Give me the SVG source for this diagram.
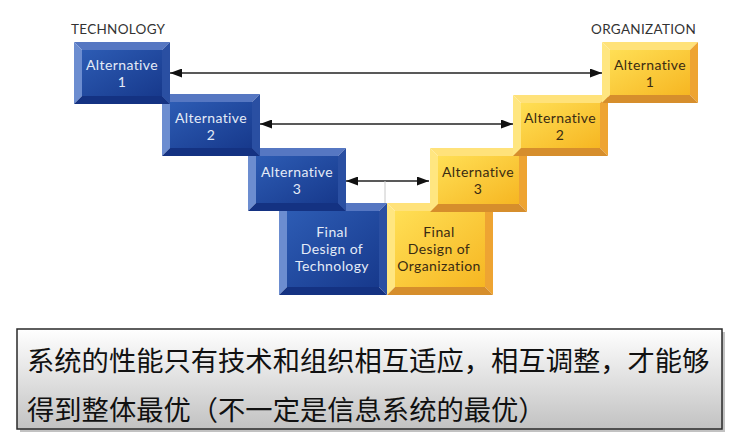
<svg xmlns="http://www.w3.org/2000/svg" width="740" height="444" viewBox="0 0 740 444">
<defs>
  <linearGradient id="gBlue" x1="0" y1="0" x2="1" y2="1">
    <stop offset="0" stop-color="#2d5cb4"/>
    <stop offset="1" stop-color="#17398c"/>
  </linearGradient>
  <linearGradient id="gYel" x1="0" y1="0" x2="1" y2="1">
    <stop offset="0" stop-color="#ffdf55"/>
    <stop offset="1" stop-color="#f6b622"/>
  </linearGradient>
  <linearGradient id="gBox" x1="0" y1="0" x2="0" y2="1">
    <stop offset="0" stop-color="#ffffff"/>
    <stop offset="1" stop-color="#c2c2c2"/>
  </linearGradient>
  <marker id="ah" viewBox="0 0 12 9" refX="12" refY="4.5" markerWidth="12" markerHeight="9" markerUnits="userSpaceOnUse" orient="auto-start-reverse">
    <path d="M0,0 L12,4.5 L0,9 z" fill="#111"/>
  </marker>
  <style>
    .bf{fill:url(#gBlue)} .bt{fill:#5677c2} .bl{fill:#6c8dd0} .br{fill:#2a4fa2} .bb{fill:#143282}
    .yf{fill:url(#gYel)} .yt{fill:#ffe27a} .yl{fill:#ffe680} .yr{fill:#eea432} .yb{fill:#d68e2c}
    .tb{font-family:Lato,"Open Sans",sans-serif;font-size:14px;letter-spacing:0.4px;fill:#e4ebf7;text-anchor:middle}
    .ty{font-family:Lato,"Open Sans",sans-serif;font-size:14px;letter-spacing:0.4px;fill:#3a2b12;text-anchor:middle}
    .hd{font-family:Lato,"Open Sans",sans-serif;font-size:13.5px;letter-spacing:0.3px;fill:#333}
    .cn{font-family:"Noto Sans CJK SC","Noto Sans",sans-serif;font-size:27.3px;fill:#111}
    .ar{stroke:#222;stroke-width:1.4;fill:none}
  </style>
</defs>
<rect width="740" height="444" fill="#ffffff"/>

<text class="hd" x="71" y="34">TECHNOLOGY</text>
<text class="hd" x="696" y="34" text-anchor="end">ORGANIZATION</text>

<g id="final-tech">
  <rect class="bf" x="287" y="211" width="92" height="76"/>
  <polygon class="bt" points="279,203 387,203 379,211 287,211"/>
  <polygon class="bl" points="279,203 287,211 287,287 279,295"/>
  <polygon class="br" points="387,203 379,211 379,287 387,295"/>
  <polygon class="bb" points="279,295 387,295 379,287 287,287"/>
  <text class="tb" x="332" y="237">Final</text>
  <text class="tb" x="332" y="254">Design of</text>
  <text class="tb" x="332" y="271">Technology</text>
</g>
<g id="final-org">
  <rect class="yf" x="395" y="211" width="90" height="76"/>
  <polygon class="yt" points="387,203 493,203 485,211 395,211"/>
  <polygon class="yl" points="387,203 395,211 395,287 387,295"/>
  <polygon class="yr" points="493,203 485,211 485,287 493,295"/>
  <polygon class="yb" points="387,295 493,295 485,287 395,287"/>
  <text class="ty" x="439" y="237">Final</text>
  <text class="ty" x="439" y="254">Design of</text>
  <text class="ty" x="439" y="271">Organization</text>
</g>

<g id="tech-alt3">
  <rect class="bf" x="256" y="156" width="82" height="47"/>
  <polygon class="bt" points="248,148 346,148 338,156 256,156"/>
  <polygon class="bl" points="248,148 256,156 256,203 248,211"/>
  <polygon class="br" points="346,148 338,156 338,203 346,211"/>
  <polygon class="bb" points="248,211 346,211 338,203 256,203"/>
  <text class="tb" x="297" y="177">Alternative</text>
  <text class="tb" x="297" y="194">3</text>
</g>
<g id="org-alt3">
  <rect class="yf" x="438" y="156" width="81" height="48"/>
  <polygon class="yt" points="430,148 527,148 519,156 438,156"/>
  <polygon class="yl" points="430,148 438,156 438,204 430,212"/>
  <polygon class="yr" points="527,148 519,156 519,204 527,212"/>
  <polygon class="yb" points="430,212 527,212 519,204 438,204"/>
  <text class="ty" x="478" y="177">Alternative</text>
  <text class="ty" x="478" y="194">3</text>
</g>

<g id="tech-alt2">
  <rect class="bf" x="170" y="102" width="82" height="46"/>
  <polygon class="bt" points="162,94 260,94 252,102 170,102"/>
  <polygon class="bl" points="162,94 170,102 170,148 162,156"/>
  <polygon class="br" points="260,94 252,102 252,148 260,156"/>
  <polygon class="bb" points="162,156 260,156 252,148 170,148"/>
  <text class="tb" x="211" y="123">Alternative</text>
  <text class="tb" x="211" y="140">2</text>
</g>
<g id="org-alt2">
  <rect class="yf" x="521" y="103" width="79" height="45"/>
  <polygon class="yt" points="513,95 608,95 600,103 521,103"/>
  <polygon class="yl" points="513,95 521,103 521,148 513,156"/>
  <polygon class="yr" points="608,95 600,103 600,148 608,156"/>
  <polygon class="yb" points="513,156 608,156 600,148 521,148"/>
  <text class="ty" x="560" y="123">Alternative</text>
  <text class="ty" x="560" y="140">2</text>
</g>

<g id="tech-alt1">
  <rect class="bf" x="82" y="50" width="80" height="46"/>
  <polygon class="bt" points="74,42 170,42 162,50 82,50"/>
  <polygon class="bl" points="74,42 82,50 82,96 74,104"/>
  <polygon class="br" points="170,42 162,50 162,96 170,104"/>
  <polygon class="bb" points="74,104 170,104 162,96 82,96"/>
  <text class="tb" x="122" y="70">Alternative</text>
  <text class="tb" x="122" y="87">1</text>
</g>
<g id="org-alt1">
  <rect class="yf" x="610" y="50" width="80" height="45"/>
  <polygon class="yt" points="602,42 698,42 690,50 610,50"/>
  <polygon class="yl" points="602,42 610,50 610,95 602,103"/>
  <polygon class="yr" points="698,42 690,50 690,95 698,103"/>
  <polygon class="yb" points="602,103 698,103 690,95 610,95"/>
  <text class="ty" x="650" y="70">Alternative</text>
  <text class="ty" x="650" y="87">1</text>
</g>

<g id="connectors">
  <line class="ar" x1="170" y1="73" x2="602" y2="73" marker-start="url(#ah)" marker-end="url(#ah)"/>
  <line class="ar" x1="260" y1="124" x2="513" y2="124" marker-start="url(#ah)" marker-end="url(#ah)"/>
  <line class="ar" x1="346" y1="181" x2="429" y2="181" marker-start="url(#ah)" marker-end="url(#ah)"/>
  <line x1="385" y1="181" x2="385" y2="203" stroke="#c8c8c8" stroke-width="1"/>
</g>

<g id="note">
  <rect x="20" y="332" width="705" height="100" fill="#9a9a9a" opacity="0.6"/>
  <rect x="17" y="329" width="705" height="100" fill="url(#gBox)" stroke="#2a2a2a" stroke-width="1.5"/>
  <text class="cn" x="27" y="371">系统的性能只有技术和组织相互适应，相互调整，才能够</text>
  <text class="cn" x="27" y="420">得到整体最优（不一定是信息系统的最优）</text>
</g>
</svg>
